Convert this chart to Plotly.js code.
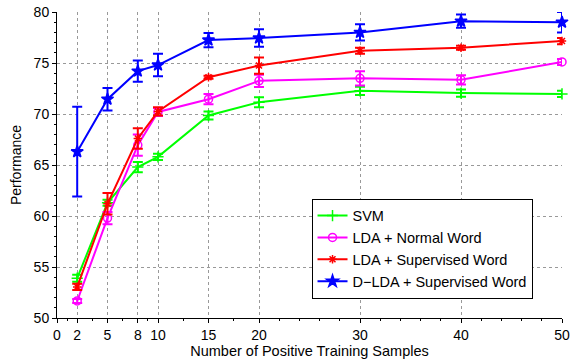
<!DOCTYPE html>
<html>
<head>
<meta charset="utf-8">
<script src="https://cdn.plot.ly/plotly-3.0.1.min.js"></script>
<style>html,body{margin:0;padding:0;background:#fff;}#chart{width:573px;height:361px;}</style>
</head>
<body>
<div id="chart"></div>
<script>
const samples = [2, 5, 8, 10, 15, 20, 30, 40, 50];
const xTickVals = [0, 2, 5, 8, 10, 15, 20, 30, 40, 50];
const seriesNames = ["SVM", "LDA + Normal Word", "LDA + Supervised Word", "D\u2212LDA + Supervised Word"];

const svm      = [53.9, 61.3, 64.8, 65.8, 69.85, 71.15, 72.27, 72.05, 71.97];
const svmErr   = [0.35, 0.3, 0.5, 0.3, 0.4, 0.5, 0.4, 0.35, 0.3];
const ldaNorm    = [51.67, 59.8, 66.95, 70.2, 71.45, 73.25, 73.5, 73.35, 75.1];
const ldaNormErr = [0.2, 0.6, 1.05, 0.4, 0.5, 0.6, 0.7, 0.45, 0.3];
const ldaSup    = [53.05, 61.2, 67.6, 70.25, 73.6, 74.75, 76.2, 76.5, 77.15];
const ldaSupErr = [0.3, 1.05, 1.0, 0.4, 0.15, 0.8, 0.3, 0.2, 0.3];
const dlda    = [66.3, 71.45, 74.2, 74.8, 77.25, 77.45, 78.0, 79.1, 79.0];
const dldaErr = [4.4, 1.1, 1.05, 1.1, 0.7, 0.85, 0.8, 0.65, 1.0];

function mk(name, y, err, color, symbol, msize) {
  return {
    x: samples, y: y, name: name, type: 'scatter', mode: 'lines+markers',
    line: {color: color, width: 2},
    marker: {color: color, symbol: symbol, size: msize, line: {color: color, width: 1.5}},
    error_y: {type: 'data', array: err, visible: true, color: color, thickness: 2, width: 5},
    cliponaxis: false
  };
}

const data = [
  mk(seriesNames[0], svm, svmErr, '#00ff00', 'cross-thin-open', 8),
  mk(seriesNames[1], ldaNorm, ldaNormErr, '#ff00ff', 'circle-open', 8),
  mk(seriesNames[2], ldaSup, ldaSupErr, '#ff0000', 'asterisk-open', 7),
  mk(seriesNames[3], dlda, dldaErr, '#0000ff', 'star', 9)
];

const fontFam = '"Liberation Sans", Arial, Helvetica, sans-serif';
const layout = {
  width: 573, height: 361,
  margin: {l: 57, r: 11, t: 12, b: 43},
  paper_bgcolor: '#fff', plot_bgcolor: '#fff',
  font: {family: fontFam, size: 13, color: '#000'},
  showlegend: true,
  legend: {
    x: 0.504, y: 0.39, xanchor: 'left', yanchor: 'top',
    bgcolor: '#fff', bordercolor: '#000', borderwidth: 1,
    font: {family: fontFam, size: 14.5, color: '#000'},
    tracegroupgap: 0
  },
  xaxis: {
    range: [0, 50], tickmode: 'array', tickvals: xTickVals,
    ticks: 'outside', ticklen: 4, tickcolor: '#000',
    showline: true, linecolor: '#000', linewidth: 1,
    showgrid: true, gridcolor: '#999', griddash: 'dot', gridwidth: 1,
    zeroline: false,
    tickfont: {size: 14},
    title: {text: 'Number of Positive Training Samples', font: {size: 14.5}, standoff: 3},
    minor: {tickmode: 'array', tickvals: [1, 3.5, 6.5, 9, 12.5, 17.5, 22, 24, 26, 28, 32, 34, 36, 38, 42, 44, 46, 48], ticks: 'outside', ticklen: 2, tickcolor: '#000', showgrid: false}
  },
  yaxis: {
    range: [50, 80], dtick: 5,
    ticks: 'outside', ticklen: 4, tickcolor: '#000',
    showline: true, linecolor: '#000', linewidth: 1,
    showgrid: true, gridcolor: '#999', griddash: 'dot', gridwidth: 1,
    zeroline: false,
    tickfont: {size: 14},
    title: {text: 'Performance', font: {size: 14}, standoff: 8},
    minor: {dtick: 1, ticks: 'outside', ticklen: 2, tickcolor: '#000', showgrid: false}
  }
};

Plotly.newPlot('chart', data, layout, {displayModeBar: false, staticPlot: true});
</script>
</body>
</html>
